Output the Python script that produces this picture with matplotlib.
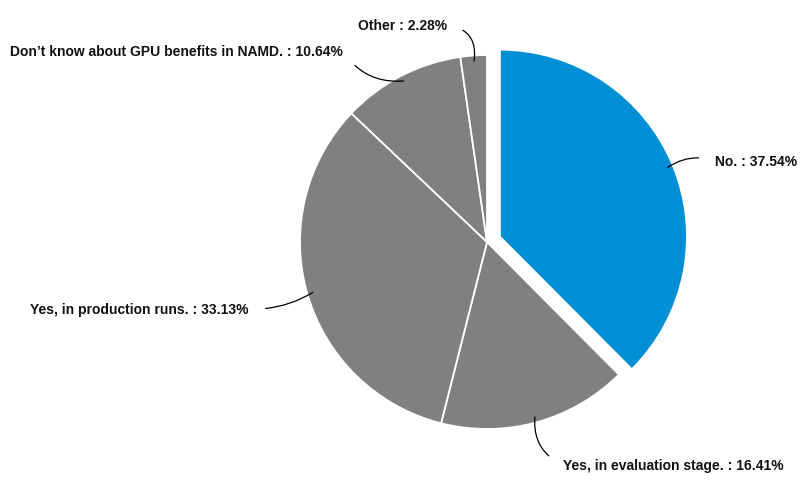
import matplotlib.pyplot as plt
import numpy as np

# survey answers: does your group use GPUs with NAMD?
labels = ['No.', 'Yes, in evaluation stage.', 'Yes, in production runs.',
          "Don\u2019t know about GPU benefits in NAMD.", 'Other']
shares = [37.54, 16.41, 33.13, 10.64, 2.28]
colors = ['#008fd5', '#808080', '#808080', '#808080', '#808080']

W, H = 806, 485
fig = plt.figure(figsize=(W / 100, H / 100), dpi=100)
ax = fig.add_axes([0, 0, 1, 1])

R = 187
cx, cy = 487, H - 243
# pie explode is in data units here (axes are in pixels)
explode = [14, 0, 0, 0, 0]
wedges, _ = ax.pie(shares, colors=colors, explode=explode, radius=R,
                   center=(cx, cy), startangle=90, counterclock=False,
                   wedgeprops=dict(edgecolor='white', linewidth=1.3),
                   frame=True)
ax.set_xlim(0, W)
ax.set_ylim(0, H)
ax.set_aspect('equal')
ax.axis('off')

# label positions (text anchor) and curvature of the leader lines
text_pos = [(715, H - 162, 'left', 0.25),
            (563, H - 466, 'left', -0.35),
            (249, H - 310, 'right', 0.15),
            (343, H - 52, 'right', 0.3),
            (447, H - 26, 'right', -0.5)]

for w, lab, val, (tx, ty, ha, rad) in zip(wedges, labels, shares, text_pos):
    ang = np.deg2rad((w.theta1 + w.theta2) / 2)
    wx, wy = w.center
    px = wx + 0.97 * R * np.cos(ang)
    py = wy + 0.97 * R * np.sin(ang)
    ax.annotate(f'{lab} : {val:.2f}%', xy=(px, py), xytext=(tx, ty),
                ha=ha, va='center', fontsize=10, fontweight='bold',
                family='Liberation Sans', color='#111111',
                arrowprops=dict(arrowstyle='-', color='black', lw=0.9,
                                relpos=(0 if ha == 'left' else 1, 0.5),
                                shrinkA=10, shrinkB=0,
                                connectionstyle=f'arc3,rad={rad}'))

fig.savefig('out.png', dpi=100)
